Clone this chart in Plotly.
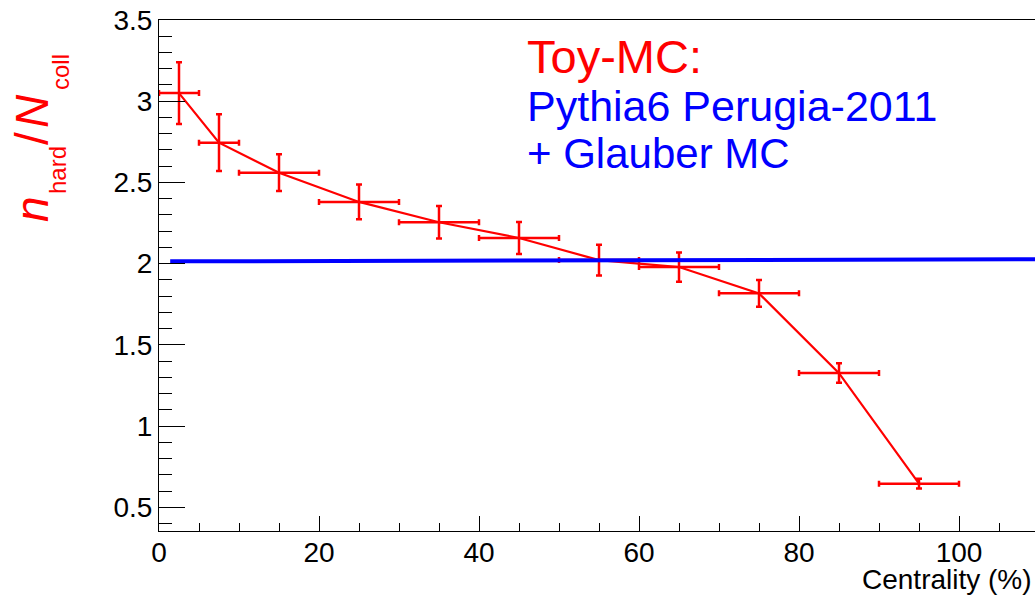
import plotly.graph_objects as go

# ---- data ----
centrality = [2.5, 7.5, 15, 25, 35, 45, 55, 65, 75, 85, 95]
bin_halfwidth = [2.5, 2.5, 5, 5, 5, 5, 5, 5, 5, 5, 5]
ratio = [3.05, 2.745, 2.56, 2.38, 2.255, 2.158, 2.022, 1.979, 1.817, 1.326, 0.645]
ratio_err = [0.19, 0.175, 0.113, 0.107, 0.10, 0.098, 0.095, 0.09, 0.082, 0.06, 0.03]
glauber_x = [1.4, 110]
glauber_y = [2.014, 2.027]
x_ticks = [0, 20, 40, 60, 80, 100]
y_ticks = [0.5, 1, 1.5, 2, 2.5, 3, 3.5]

W, H = 1035, 595
ML, MR, MT, MB = 159, 0, 20, 64
FONT = "Liberation Sans, Arial, sans-serif"

fig = go.Figure()
fig.add_trace(go.Scatter(
    x=centrality, y=ratio, mode="lines",
    line=dict(color="#ff0000", width=2.2),
    error_x=dict(type="data", array=bin_halfwidth, color="#ff0000", thickness=2.5, width=3),
    error_y=dict(type="data", array=ratio_err, color="#ff0000", thickness=2.5, width=3),
    showlegend=False, hoverinfo="skip",
))
fig.add_trace(go.Scatter(
    x=glauber_x, y=glauber_y, mode="lines",
    line=dict(color="#0000ff", width=4),
    showlegend=False, hoverinfo="skip",
))


def ann(text, px, py, size, color, xanchor="center", yanchor="middle", angle=0):
    fig.add_annotation(
        text=text, x=0, y=0, xref="paper", yref="paper",
        xshift=px - ML, yshift=(H - MB) - py,
        xanchor=xanchor, yanchor=yanchor, textangle=angle,
        showarrow=False, font=dict(family=FONT, size=size, color=color),
    )


ann("Toy-MC:", 525, 56, 47, "#ff0000", xanchor="left")
ann("Pythia6 Perugia-2011", 525, 106, 43, "#0000ff", xanchor="left")
ann("+ Glauber MC", 525, 153, 42, "#0000ff", xanchor="left")
ann("Centrality (%)", 1034, 579.5, 28, "#000000", xanchor="right")

# y-axis title, built from pieces (ROOT style subscripts)
ann("<i>n</i>", 32, 209, 46, "#ff0000", angle=-90)
ann("hard", 57, 170, 24, "#ff0000", angle=-90)
ann("/", 32, 139, 46, "#ff0000", angle=-90)
ann("<i>N</i>", 32, 111, 46, "#ff0000", angle=-90)
ann("coll", 60, 72, 24, "#ff0000", angle=-90)

fig.update_layout(
    width=W, height=H,
    margin=dict(l=ML, r=MR, t=MT, b=MB, pad=0),
    plot_bgcolor="white", paper_bgcolor="white",
    font=dict(family=FONT, size=28, color="black"),
    xaxis=dict(
        range=[0, 109.5], tickvals=x_ticks, ticks="inside", ticklen=15,
        tickwidth=1, tickcolor="black", showline=True, linecolor="black",
        linewidth=1, mirror=True, showgrid=False, zeroline=False,
        tickfont=dict(size=28), ticklabelstandoff=-4,
        minor=dict(dtick=5, tick0=0, ticks="inside", ticklen=8, tickwidth=1,
                   tickcolor="black", showgrid=False),
    ),
    yaxis=dict(
        range=[0.354, 3.5], tickvals=y_ticks, ticks="inside", ticklen=26,
        tickwidth=1, tickcolor="black", showline=True, linecolor="black",
        linewidth=1, mirror=False, showgrid=False, zeroline=False,
        tickfont=dict(size=28),
        minor=dict(dtick=0.1, tick0=0, ticks="inside", ticklen=13, tickwidth=1,
                   tickcolor="black", showgrid=False),
    ),
)

fig.write_html("out.html")
